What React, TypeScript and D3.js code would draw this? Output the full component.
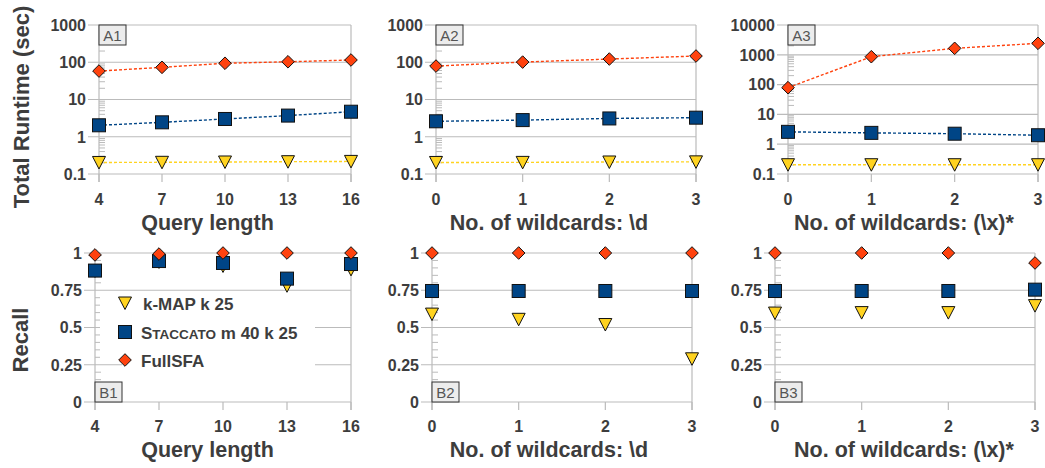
import React from "react";
import * as d3 from "d3";

// ---------- data ----------
const queryLengths = [4, 7, 10, 13, 16];
const wildcards = [0, 1, 2, 3];

const seriesNames = ["k-MAP k 25", "Staccato m 40 k 25", "FullSFA"];

// Runtime (sec), log scale
const kmapA1 = [0.204, 0.206, 0.21, 0.214, 0.218];
const staccatoA1 = [2.03, 2.44, 3.0, 3.7, 4.7];
const fullA1 = [58, 73, 94, 103, 115];

const kmapA2 = [0.204, 0.205, 0.21, 0.212];
const staccatoA2 = [2.6, 2.8, 3.1, 3.25];
const fullA2 = [79, 101, 122, 147];

const kmapA3 = [0.205, 0.205, 0.205, 0.205];
const staccatoA3 = [2.6, 2.4, 2.25, 2.0];
const fullA3 = [79, 863, 1650, 2430];

// Recall
const kmapB1 = [0.88, 0.94, 0.913, 0.78, 0.89];
const staccatoB1 = [0.882, 0.946, 0.933, 0.828, 0.926];
const fullB1 = [0.987, 0.993, 1, 1, 1];

const kmapB2 = [0.59, 0.555, 0.52, 0.29];
const staccatoB2 = [0.745, 0.745, 0.745, 0.745];
const fullB2 = [1, 1, 1, 1];

const kmapB3 = [0.597, 0.6, 0.6, 0.647];
const staccatoB3 = [0.745, 0.745, 0.745, 0.754];
const fullB3 = [1, 1, 1, 0.933];

const logTicksA12 = [0.1, 1, 10, 100, 1000];
const logTicksA3 = [0.1, 1, 10, 100, 1000, 10000];
const recallTicks = [0, 0.25, 0.5, 0.75, 1];

const xTitles = ["Query length", "No. of wildcards: \\d", "No. of wildcards: (\\x)*"];

// ---------- styling / layout ----------
const COLORS = ["#ffd320", "#004586", "#ff420e"];
const TEXT = "#3d3d3d";
const GRID = "#bbbbbb";
const FONT = "'Liberation Sans', Arial, sans-serif";

type Panel = {
  id: string;
  xs: number[];
  series: number[][];
  log: boolean;
  ticks: number[];
  x0: number; x1: number; yTop: number; yBot: number;
  title: string; titleX: number; titleY: number; tickY: number;
  boxTop: boolean;
  lines: boolean;
};

const panels: Panel[] = [
  { id: "A1", xs: queryLengths, series: [kmapA1, staccatoA1, fullA1], log: true, ticks: logTicksA12,
    x0: 99, x1: 351, yTop: 25, yBot: 174, title: xTitles[0], titleX: 207.5, titleY: 230, tickY: 205, boxTop: true, lines: true },
  { id: "A2", xs: wildcards, series: [kmapA2, staccatoA2, fullA2], log: true, ticks: logTicksA12,
    x0: 436, x1: 696, yTop: 25, yBot: 174, title: xTitles[1], titleX: 549, titleY: 230, tickY: 205, boxTop: true, lines: true },
  { id: "A3", xs: wildcards, series: [kmapA3, staccatoA3, fullA3], log: true, ticks: logTicksA3,
    x0: 788, x1: 1038, yTop: 25, yBot: 174, title: xTitles[2], titleX: 904, titleY: 230, tickY: 205, boxTop: true, lines: true },
  { id: "B1", xs: queryLengths, series: [kmapB1, staccatoB1, fullB1], log: false, ticks: recallTicks,
    x0: 95, x1: 351, yTop: 253, yBot: 402, title: xTitles[0], titleX: 207.5, titleY: 457, tickY: 432, boxTop: false, lines: false },
  { id: "B2", xs: wildcards, series: [kmapB2, staccatoB2, fullB2], log: false, ticks: recallTicks,
    x0: 432, x1: 692, yTop: 253, yBot: 402, title: xTitles[1], titleX: 549, titleY: 457, tickY: 432, boxTop: false, lines: false },
  { id: "B3", xs: wildcards, series: [kmapB3, staccatoB3, fullB3], log: false, ticks: recallTicks,
    x0: 775, x1: 1035, yTop: 253, yBot: 402, title: xTitles[2], titleX: 904, titleY: 457, tickY: 432, boxTop: false, lines: false },
];

function Marker({ kind, x, y }: { kind: number; x: number; y: number }) {
  const fill = COLORS[kind];
  if (kind === 0) {
    return <path d={`M${x - 6.5},${y - 6}L${x + 6.5},${y - 6}L${x},${y + 6.5}Z`} fill={fill} stroke="#111" strokeWidth={1} strokeLinejoin="round" />;
  }
  if (kind === 1) {
    return <rect x={x - 6.5} y={y - 6.5} width={13} height={13} fill={fill} stroke="#111" strokeWidth={1} />;
  }
  return <path d={`M${x},${y - 6.3}L${x + 6.3},${y}L${x},${y + 6.3}L${x - 6.3},${y}Z`} fill={fill} stroke="#111" strokeWidth={1} />;
}

function fmt(v: number) {
  return String(v);
}

function PanelView({ p }: { p: Panel }) {
  const x = d3.scalePoint<number>().domain(p.xs).range([p.x0, p.x1]);
  const y = p.log
    ? d3.scaleLog().domain([p.ticks[0], p.ticks[p.ticks.length - 1]]).range([p.yBot, p.yTop])
    : d3.scaleLinear().domain([0, 1]).range([p.yBot, p.yTop]);
  const minor: number[] = p.log
    ? (y as d3.ScaleLogarithmic<number, number>).ticks().filter((t) => !p.ticks.some((m) => Math.abs(m - t) < 1e-9))
    : d3.range(0, 1.0001, 0.05).filter((t) => !p.ticks.some((m) => Math.abs(m - t) < 1e-6));
  const line = d3.line<number>().x((_, i) => x(p.xs[i]) as number).y((v) => y(v));
  const boxY = p.boxTop ? p.yTop : p.yBot - 20;
  return (
    <g>
      {p.ticks.map((t) => (
        <line key={"g" + t} x1={p.x0 - 11} x2={p.x1} y1={y(t)} y2={y(t)} stroke={GRID} strokeWidth={1.2} />
      ))}
      {minor.map((t, i) => (
        <line key={"m" + i} x1={p.x0} x2={p.x0 + 6} y1={y(t)} y2={y(t)} stroke={GRID} strokeWidth={1} />
      ))}
      <line x1={p.x0} x2={p.x0} y1={p.yTop} y2={p.yBot + 8} stroke={GRID} strokeWidth={1.2} />
      <line x1={p.x1} x2={p.x1} y1={p.yTop} y2={p.yBot + 8} stroke={GRID} strokeWidth={1.2} />
      {p.xs.map((v) => (
        <line key={"xt" + v} x1={x(v)} x2={x(v)} y1={p.yBot} y2={p.yBot + 8} stroke={GRID} strokeWidth={1.2} />
      ))}
      {p.ticks.map((t) => (
        <text key={"yl" + t} x={p.x0 - 13} y={y(t)} dy="0.36em" textAnchor="end" fontSize={16} fontWeight="bold" fill={TEXT}>
          {fmt(t)}
        </text>
      ))}
      {p.xs.map((v) => (
        <text key={"xl" + v} x={x(v)} y={p.tickY} textAnchor="middle" fontSize={16} fontWeight="bold" fill={TEXT}>
          {v}
        </text>
      ))}
      <text x={p.titleX} y={p.titleY} textAnchor="middle" fontSize={21.5} fontWeight="bold" fill={TEXT}>
        {p.title}
      </text>
      <rect x={p.x0} y={boxY} width={27} height={20} fill="#ececec" stroke="#333" strokeWidth={1} />
      <text x={p.x0 + 13.5} y={boxY + 15.5} textAnchor="middle" fontSize={15} fill="#555">
        {p.id}
      </text>
      {p.id === "B1" && <Legend />}
      {p.lines &&
        p.series.map((s, k) => (
          <path key={"l" + k} d={line(s) || ""} fill="none" stroke={COLORS[k]} strokeWidth={1.4} strokeDasharray="3,2" />
        ))}
      {p.series.map((s, k) =>
        s.map((v, i) => <Marker key={"p" + k + "-" + i} kind={k} x={x(p.xs[i]) as number} y={y(v)} />)
      )}
    </g>
  );
}

function Legend() {
  const rows = [303, 332, 360];
  const tx = 141;
  return (
    <g>
      <rect x={100} y={294} width={212} height={68} fill="#fff" />
      <rect x={122} y={294} width={193} height={74} fill="#fff" />
      <Marker kind={0} x={125} y={rows[0]} />
      <Marker kind={1} x={125} y={rows[1]} />
      <Marker kind={2} x={125} y={rows[2]} />
      <text x={tx + 2} y={rows[0] + 6.5} fontSize={17} fontWeight="bold" fill={TEXT}>{seriesNames[0]}</text>
      <text x={tx} y={rows[1] + 7} fontSize={17} fontWeight="bold" fill={TEXT}>
        <tspan>S</tspan>
        <tspan fontSize={13.5}>TACCATO</tspan>
        <tspan>{" m 40 k 25"}</tspan>
      </text>
      <text x={tx} y={rows[2] + 6.5} fontSize={17} fontWeight="bold" fill={TEXT}>{seriesNames[2]}</text>
    </g>
  );
}

export default function App() {
  return (
    <svg
      width={1045}
      height={468}
      style={{ position: "absolute", left: 0, top: 0, background: "#fff", fontFamily: FONT }}
    >
      <rect width={1045} height={468} fill="#fff" />
      <text transform="translate(29,107) rotate(-90)" textAnchor="middle" fontSize={22} fontWeight="bold" fill={TEXT}>
        Total Runtime (sec)
      </text>
      <text transform="translate(27.5,340) rotate(-90)" textAnchor="middle" fontSize={22} fontWeight="bold" fill={TEXT}>
        Recall
      </text>
      {panels.map((p) => (
        <PanelView key={p.id} p={p} />
      ))}
    </svg>
  );
}
